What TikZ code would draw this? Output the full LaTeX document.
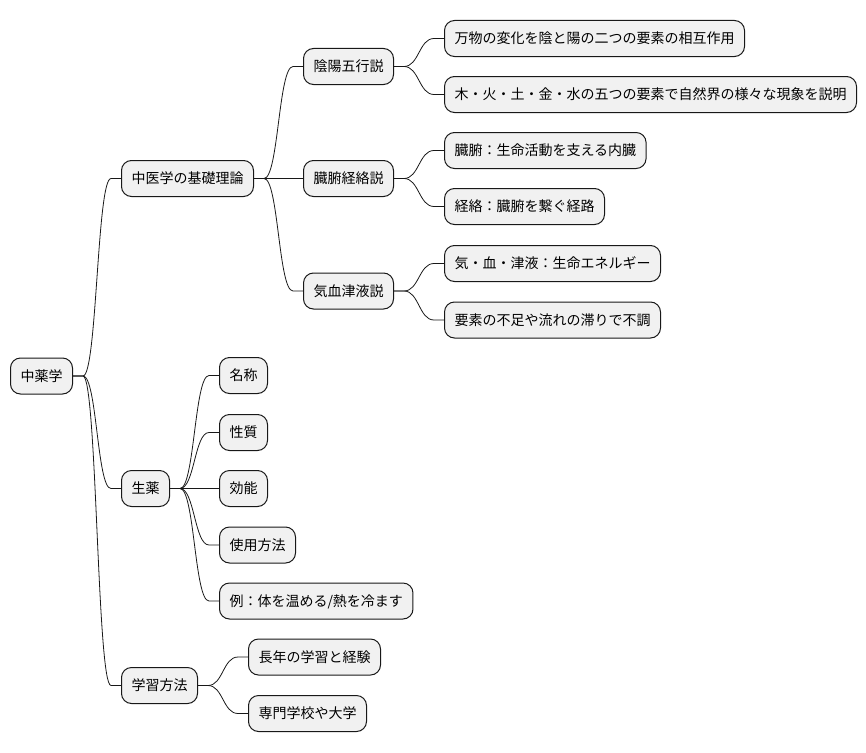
\documentclass[tikz,border=0pt]{standalone}
\usepackage{fontspec}
\setmainfont{Noto Sans CJK JP}
\usepackage{tikz}
\usetikzlibrary{calc}
\definecolor{mapFill}{HTML}{F1F1F1}
\definecolor{mapLine}{HTML}{181818}

\begin{document}
\begin{tikzpicture}[
    x=1pt, y=-1pt,
    topic/.style={draw=mapLine, line width=1pt, fill=mapFill, rounded corners=10pt,
        anchor=west, minimum height=36pt, inner xsep=10pt, inner ysep=0pt,
        text height=12pt, text depth=2pt, font=\fontsize{14}{16}\selectfont},
    link/.style={draw=mapLine, line width=0.8pt},
]
    \useasboundingbox (0,0) rectangle (866,752);

    % Root
    \node[topic] (root) at (10, 376) {中薬学};

    % First level
    \node[topic] (theory) at (121, 178.5) {中医学の基礎理論};
    \node[topic] (herb) at (121, 488.5) {生薬};
    \node[topic] (study) at (121, 685.5) {学習方法};

    % Theory branches
    \node[topic] (yinyang) at (303, 66.5) {陰陽五行説};
    \node[topic] (zangfu) at (303, 178.5) {臓腑経絡説};
    \node[topic] (qixue) at (303, 291) {気血津液説};

    \node[topic] (yy1) at (444, 38.5) {万物の変化を陰と陽の二つの要素の相互作用};
    \node[topic] (yy2) at (444, 94.5) {木・火・土・金・水の五つの要素で自然界の様々な現象を説明};
    \node[topic] (zf1) at (444, 150.5) {臓腑：生命活動を支える内臓};
    \node[topic] (zf2) at (444, 206.5) {経絡：臓腑を繋ぐ経路};
    \node[topic] (qx1) at (444, 263.5) {気・血・津液：生命エネルギー};
    \node[topic] (qx2) at (444, 320) {要素の不足や流れの滞りで不調};

    % Herb branches
    \node[topic] (name) at (219, 375.5) {名称};
    \node[topic] (nature) at (219, 432.5) {性質};
    \node[topic] (effect) at (219, 488.5) {効能};
    \node[topic] (usage) at (219, 545) {使用方法};
    \node[topic] (sample) at (219, 601) {例：体を温める/熱を冷ます};

    % Study branches
    \node[topic] (years) at (248, 657) {長年の学習と経験};
    \node[topic] (school) at (248, 713.5) {専門学校や大学};

    % Connectors
    \foreach \src/\dst in {root/theory, root/herb, root/study,
        theory/yinyang, theory/zangfu, theory/qixue,
        yinyang/yy1, yinyang/yy2, zangfu/zf1, zangfu/zf2, qixue/qx1, qixue/qx2,
        herb/name, herb/nature, herb/effect, herb/usage, herb/sample,
        study/years, study/school}
        \draw[link] let \p1=(\src.east), \p2=(\dst.west) in
            (\p1) -- (\x1+10pt,\y1)
            .. controls ({(\x1+\x2)/2},\y1) and ({(\x1+\x2)/2},\y2) ..
            (\x2-10pt,\y2) -- (\p2);
\end{tikzpicture}
\end{document}
